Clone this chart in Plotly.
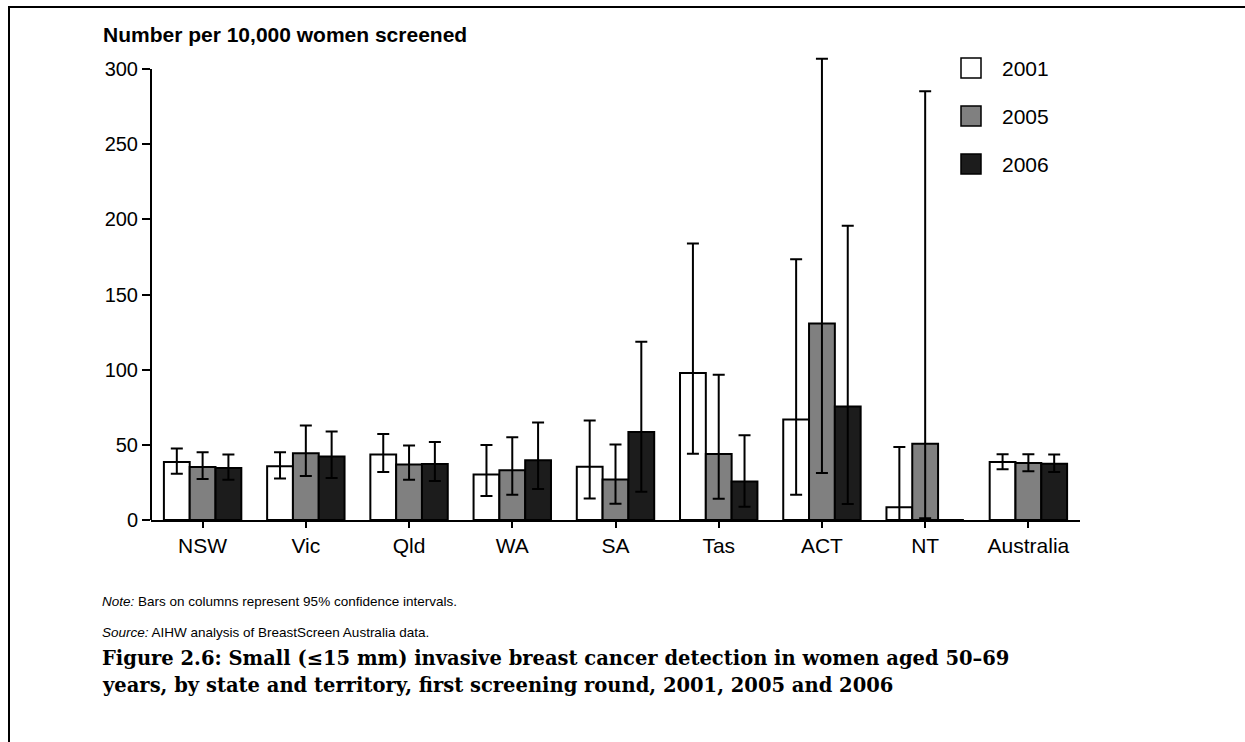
import plotly.graph_objects as go

categories = ["NSW", "Vic", "Qld", "WA", "SA", "Tas", "ACT", "NT", "Australia"]
years = ["2001", "2005", "2006"]

v2001 = [38.6, 35.8, 43.5, 30.2, 35.5, 97.8, 66.9, 8.4, 38.6]
hi2001 = [47.5, 45.0, 57.2, 49.9, 66.2, 183.9, 173.5, 48.6, 43.7]
lo2001 = [30.7, 27.6, 32.0, 16.0, 14.3, 44.1, 16.8, 0.0, 33.8]

v2005 = [35.3, 44.4, 36.9, 33.1, 26.9, 43.9, 130.7, 50.8, 38.0]
hi2005 = [45.0, 62.9, 49.5, 55.0, 50.3, 96.7, 306.8, 285.2, 43.7]
lo2005 = [27.2, 29.3, 26.7, 16.8, 10.8, 14.1, 31.3, 1.1, 32.5]

v2006 = [34.6, 42.2, 37.3, 39.7, 58.5, 25.6, 75.5, 0.0, 37.5]
hi2006 = [43.5, 58.9, 51.9, 64.9, 118.5, 56.3, 195.8, 0.0, 43.5]
lo2006 = [26.7, 28.0, 26.0, 20.7, 18.8, 8.8, 10.6, 0.0, 32.0]

yticks = [0, 50, 100, 150, 200, 250, 300]
y_axis_max = 300
y_view_max = 310

values = [v2001, v2005, v2006]
highs = [hi2001, hi2005, hi2006]
lows = [lo2001, lo2005, lo2006]
colors = ["#ffffff", "#808080", "#1c1c1c"]

W, H = 1245, 742
ZERO_Y = 520
TOP300_Y = 69
scale = (ZERO_Y - TOP300_Y) / y_axis_max
L, R = 151, 165
T = int(round(ZERO_Y - y_view_max * scale))
B = H - ZERO_Y
PW = W - L - R
PH = H - T - B


def px(x):
    return (x - L) / PW


def py(y):
    return (H - B - y) / PH


SANS = "Arial, Liberation Sans, sans-serif"
SERIF = "Book Antiqua, Palatino Linotype, DejaVu Serif, serif"

fig = go.Figure()
for name, vals, hi, lo, col in zip(years, values, highs, lows, colors):
    fig.add_trace(go.Bar(
        x=categories, y=vals, name=name,
        marker=dict(color=col, line=dict(color="black", width=2)),
        error_y=dict(type="data", symmetric=False,
                     array=[h - v for h, v in zip(hi, vals)],
                     arrayminus=[v - l for v, l in zip(vals, lo)],
                     color="black", thickness=2, width=6),
        cliponaxis=False,
        showlegend=False,
    ))

shapes = []
annotations = []
# frame (top and left)
shapes.append(dict(type="line", xref="paper", yref="paper", x0=px(8), x1=px(1245), y0=py(7), y1=py(7),
                   line=dict(color="black", width=2)))
shapes.append(dict(type="line", xref="paper", yref="paper", x0=px(9), x1=px(9), y0=py(6), y1=py(742),
                   line=dict(color="black", width=2)))
# y axis line, only up to the top tick
shapes.append(dict(type="line", xref="paper", yref="y", x0=0, x1=0, y0=0, y1=y_axis_max,
                   line=dict(color="black", width=2)))

# legend
leg_y = [68, 116, 164]
for name, col, cy in zip(years, colors, leg_y):
    shapes.append(dict(type="rect", xref="paper", yref="paper",
                       x0=px(961), x1=px(981), y0=py(cy - 10), y1=py(cy + 10),
                       fillcolor=col, line=dict(color="black", width=1.5)))
    annotations.append(dict(xref="paper", yref="paper", x=px(1000), y=py(cy), text=name,
                            showarrow=False, xanchor="left", yanchor="middle",
                            font=dict(family=SANS, size=21, color="black")))

annotations.append(dict(xref="paper", yref="paper", x=px(101), y=py(34),
                        text="<b>Number per 10,000 women screened</b>", showarrow=False,
                        xanchor="left", yanchor="middle",
                        font=dict(family=SANS, size=21, color="black")))
annotations.append(dict(xref="paper", yref="paper", x=px(100), y=py(601),
                        text="<i>Note:</i> Bars on columns represent 95% confidence intervals.",
                        showarrow=False, xanchor="left", yanchor="middle",
                        font=dict(family=SANS, size=13.5, color="black")))
annotations.append(dict(xref="paper", yref="paper", x=px(100), y=py(632),
                        text="<i>Source:</i> AIHW analysis of BreastScreen Australia data.",
                        showarrow=False, xanchor="left", yanchor="middle",
                        font=dict(family=SANS, size=13.5, color="black")))
caption_lines = ["Figure 2.6: Small (≤15 mm) invasive breast cancer detection in women aged 50–69",
                 "years, by state and territory, first screening round, 2001, 2005 and 2006"]
for line, cy in zip(caption_lines, [658, 686]):
    annotations.append(dict(xref="paper", yref="paper", x=px(100), y=py(cy),
                            text="<b>" + line + "</b>",
                            showarrow=False, xanchor="left", yanchor="middle", align="left",
                            font=dict(family=SERIF, size=19.5, color="black")))

fig.update_layout(
    width=W, height=H,
    margin=dict(l=L, r=R, t=T, b=B, pad=0),
    paper_bgcolor="white", plot_bgcolor="white",
    barmode="group", bargap=0.25, bargroupgap=0,
    shapes=shapes, annotations=annotations,
    font=dict(family=SANS, color="black"),
    hovermode=False,
)
fig.update_xaxes(showline=True, linecolor="black", linewidth=2, ticks="outside", ticklen=6,
                 tickwidth=1.5, tickcolor="black", showgrid=False, zeroline=False,
                 tickfont=dict(family=SANS, size=21, color="black"), range=[-0.5, 8.5])
fig.update_yaxes(showline=False, ticks="outside", ticklen=8,
                 tickwidth=1.5, tickcolor="black", showgrid=False, zeroline=False,
                 range=[0, y_view_max], tickvals=yticks, ticktext=[str(t) for t in yticks],
                 tickfont=dict(family=SANS, size=20, color="black"))

fig.write_html("out.html", config={"displayModeBar": False},
               post_script="document.body.style.margin='0px';")
